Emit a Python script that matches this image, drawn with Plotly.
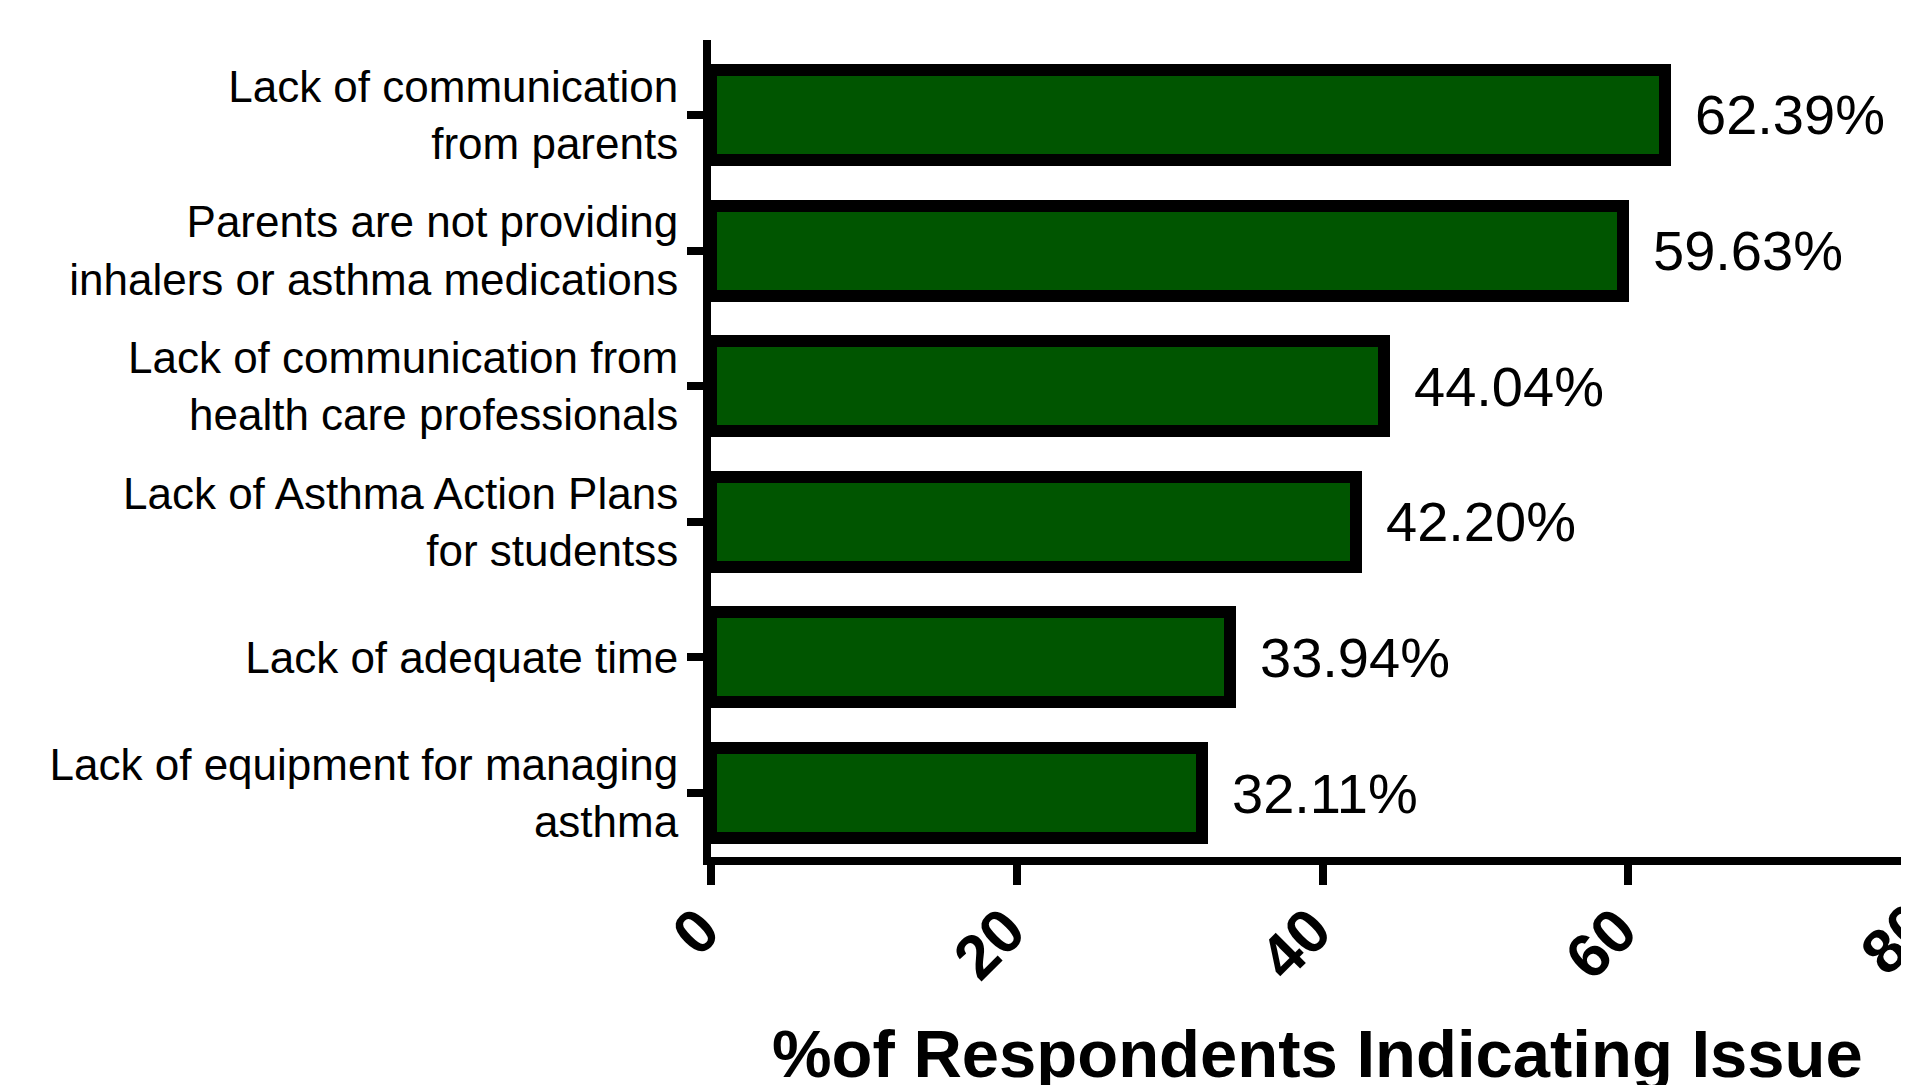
import plotly.graph_objects as go

categories = [
    "Lack of communication<br>from parents",
    "Parents are not providing<br>inhalers or asthma medications",
    "Lack of communication from<br>health care professionals",
    "Lack of Asthma Action Plans<br>for studentss",
    "Lack of adequate time",
    "Lack of equipment for managing<br>asthma",
]
values = [62.39, 59.63, 44.04, 42.20, 33.94, 32.11]
x_ticks = [0, 20, 40, 60]
x_tick_labels = ["0", "20", "40", "60"]
x_title = "%of Respondents Indicating Issue"

# page body has an 8px default margin; size the figure to fill the rest
W, H = 1901, 1077
L, T, B = 703, 32, 228
x_max = 78.35

fig = go.Figure()
fig.add_trace(go.Bar(
    x=values, y=categories, orientation="h",
    width=0.664,
    marker=dict(color="#005500", line=dict(color="black", width=12)),
    hoverinfo="skip",
))

annotations = []
for c, v in zip(categories, values):
    annotations.append(dict(
        x=v, y=c, xref="x", yref="y", text=f"{v:.2f}%", showarrow=False,
        xanchor="left", yanchor="middle", xshift=28,
        font=dict(family="Arial, Liberation Sans", size=56, color="black"),
    ))

# partially visible "80" tick label beyond the right edge
annotations.append(dict(
    x=80 / x_max, y=-0.10, xref="paper", yref="paper", text="80", showarrow=False,
    xanchor="center", yanchor="middle", xshift=-38, textangle=-45,
    font=dict(family="Arial, Liberation Sans", size=62, color="black", weight="bold"),
))

annotations.append(dict(
    x=0.506, y=-0.24, xref="paper", yref="paper", text=x_title, showarrow=False,
    xanchor="center", yanchor="middle",
    font=dict(family="Arial, Liberation Sans", size=67, color="black", weight="bold"),
))

fig.update_layout(
    width=W, height=H, autosize=False,
    margin=dict(l=L, r=0, t=T, b=B, pad=0),
    plot_bgcolor="white", paper_bgcolor="white",
    showlegend=False,
    bargap=0,
    annotations=annotations,
    xaxis=dict(
        range=[0, x_max], tickvals=x_ticks, ticktext=x_tick_labels,
        showgrid=False, zeroline=False,
        showline=True, linecolor="black", linewidth=8,
        ticks="outside", ticklen=20, tickwidth=8, tickcolor="black",
        tickangle=-45, ticklabelshift=-10, ticklabelstandoff=-16,
        tickfont=dict(family="Arial, Liberation Sans", size=62, color="black", weight="bold"),
    ),
    yaxis=dict(
        type="category", categoryarray=categories, categoryorder="array",
        range=[5.472, -0.553],
        showgrid=False, zeroline=False,
        showline=True, linecolor="black", linewidth=8,
        ticks="outside", ticklen=16, tickwidth=8, tickcolor="black",
        tickfont=dict(family="Arial, Liberation Sans", size=44, color="black"),
    ),
)

fig.write_html("out.html")
